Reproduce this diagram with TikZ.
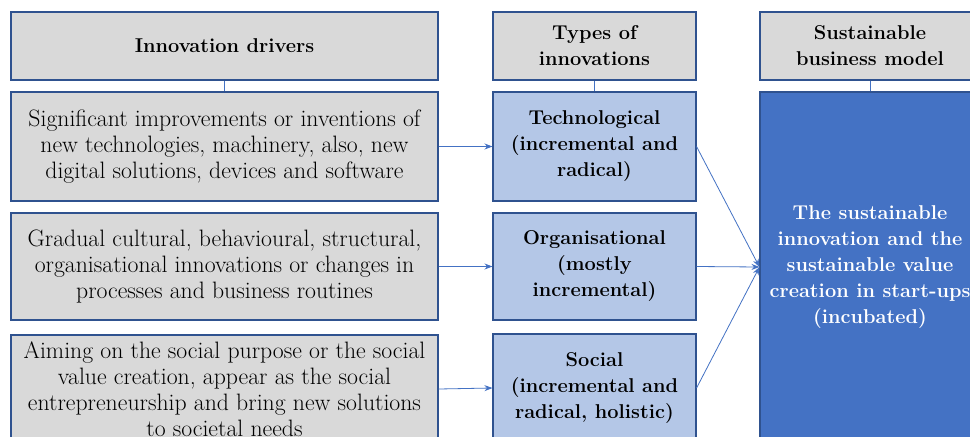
\documentclass[tikz,border=0pt]{standalone}
\usetikzlibrary{arrows.meta}
\definecolor{greyfill}{HTML}{D9D9D9}
\definecolor{edgeblue}{HTML}{2F528F}
\definecolor{lightblue}{HTML}{B4C7E7}
\definecolor{accent}{HTML}{4472C4}
\definecolor{linkblue}{HTML}{4472C4}
\begin{document}
\begin{tikzpicture}[x=0.75pt,y=-0.75pt,
  box/.style={draw=edgeblue,line width=0.8pt,rectangle,inner sep=0pt,align=center,
    font=\fontsize{17.8}{19.5}\selectfont},
  greybox/.style={box,fill=greyfill},
  typebox/.style={box,fill=lightblue,font=\fontsize{15}{19.5}\selectfont\bfseries},
  bigbox/.style={box,fill=accent,text=white,font=\fontsize{15}{19.5}\selectfont\bfseries},
  head/.style={greybox,font=\fontsize{15}{19.5}\selectfont\bfseries},
  link/.style={draw=linkblue,line width=0.6pt},
  arr/.style={link,-{Stealth[length=6pt,width=4.5pt]}}
]
\useasboundingbox (0,0) rectangle (970,436);
\clip (0,0) rectangle (970,436);
\fill[white] (0,0) rectangle (970,436);
% headers
\node[head,minimum width=427*0.75pt,minimum height=68*0.75pt] (h1) at (224.5,46) {Innovation drivers};
\node[head,minimum width=203*0.75pt,minimum height=68*0.75pt] (h2) at (594.5,46) {Types of\\innovations};
\node[head,minimum width=220*0.75pt,minimum height=68*0.75pt] (h3) at (870,46) {Sustainable\\business model};
% drivers
\node[greybox,minimum width=427*0.75pt,minimum height=109*0.75pt] (b1) at (224.5,146.5)
  {Significant improvements or inventions of\\new technologies, machinery, also, new\\digital solutions, devices and software};
\node[greybox,minimum width=427*0.75pt,minimum height=107*0.75pt] (b2) at (224.5,266.5)
  {Gradual cultural, behavioural, structural,\\organisational innovations or changes in\\processes and business routines};
\node[greybox,minimum width=427*0.75pt,minimum height=108*0.75pt] (b3) at (224.5,389)
  {Aiming on the social purpose or the social\\value creation, appear as the social\\entrepreneurship and bring new solutions\\to societal needs};
% types
\node[typebox,minimum width=203*0.75pt,minimum height=109*0.75pt] (t1) at (594.5,146.5)
  {Technological\\(incremental and\\radical)};
\node[typebox,minimum width=203*0.75pt,minimum height=107*0.75pt] (t2) at (594.5,266.5)
  {Organisational\\(mostly\\incremental)};
\node[typebox,minimum width=203*0.75pt,minimum height=108*0.75pt] (t3) at (594.5,388)
  {Social\\(incremental and\\radical, holistic)};
% big box
\node[bigbox,minimum width=220*0.75pt,minimum height=350*0.75pt] (big) at (870,267)
  {The sustainable\\innovation and the\\sustainable value\\creation in start-ups\\(incubated)};
% header links
\draw[link] (h1.south) -- (b1.north);
\draw[link] (h2.south) -- (t1.north);
\draw[link] (h3.south) -- (big.north);
% arrows
\draw[arr] (b1.east) -- (t1.west);
\draw[arr] (b2.east) -- (t2.west);
\draw[arr] (b3.east) -- (t3.west);
\draw[arr] (t1.east) -- (big.west);
\draw[arr] (t2.east) -- (big.west);
\draw[arr] (t3.east) -- (big.west);
\end{tikzpicture}
\end{document}
